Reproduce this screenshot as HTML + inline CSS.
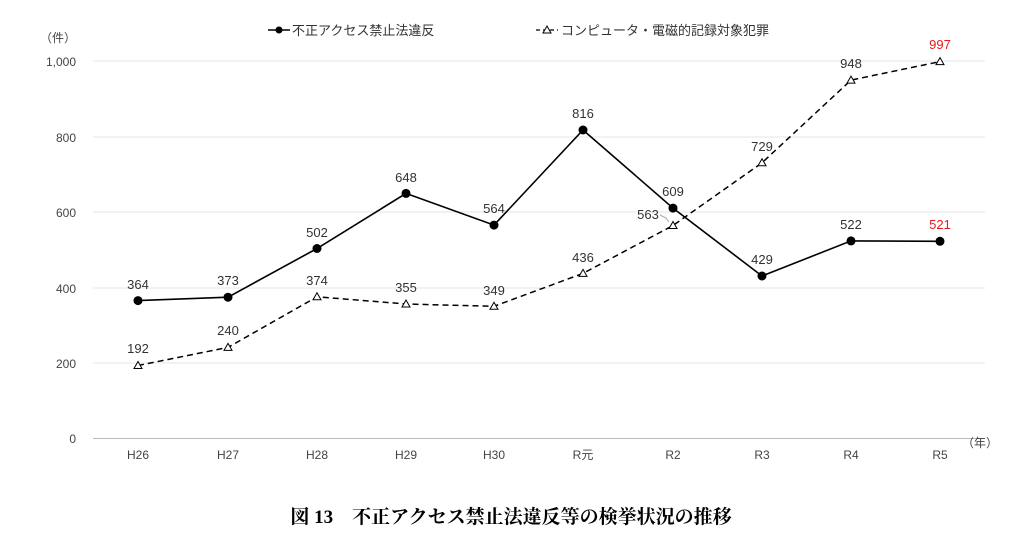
<!DOCTYPE html>
<html><head><meta charset="utf-8"><style>
body{margin:0;background:#fff;}
svg text{font-family:"Liberation Sans","Noto Sans CJK JP",sans-serif;}
</style></head><body>
<svg width="1023" height="551" viewBox="0 0 1023 551" xmlns="http://www.w3.org/2000/svg">
<g stroke="#e6e6e6" stroke-width="1">
<line x1="93" y1="61" x2="985" y2="61"/><line x1="93" y1="137" x2="985" y2="137"/>
<line x1="93" y1="212" x2="985" y2="212"/><line x1="93" y1="288" x2="985" y2="288"/>
<line x1="93" y1="363" x2="985" y2="363"/></g>
<line x1="93" y1="438.5" x2="985" y2="438.5" stroke="#bbb"/>
<g font-size="12" fill="#444" text-anchor="end">
<text x="76" y="42">（件）</text>
<text x="76" y="66">1,000</text><text x="76" y="142">800</text><text x="76" y="217">600</text>
<text x="76" y="293">400</text><text x="76" y="368">200</text><text x="76" y="443">0</text></g>
<g font-size="12" fill="#444" text-anchor="middle">
<text x="138" y="459">H26</text><text x="228" y="459">H27</text><text x="317" y="459">H28</text>
<text x="406" y="459">H29</text><text x="494" y="459">H30</text><text x="583" y="459">R元</text>
<text x="673" y="459">R2</text><text x="762" y="459">R3</text><text x="851" y="459">R4</text>
<text x="940" y="459">R5</text><text x="980" y="447">（年）</text></g>
<line x1="268" y1="30" x2="290" y2="30" stroke="#000" stroke-width="1.5"/><circle cx="279" cy="30" r="3.5"/>
<text x="292" y="35" font-size="13" fill="#333">不正アクセス禁止法違反</text>
<line x1="536" y1="30" x2="558" y2="30" stroke="#000" stroke-width="1.2" stroke-dasharray="4,3"/>
<polygon points="547,26 551,33 543,33" fill="#fff" stroke="#000"/>
<text x="561" y="35" font-size="13" fill="#333">コンピュータ・電磁的記録対象犯罪</text>
<polyline fill="none" stroke="#000" stroke-width="1.5" stroke-dasharray="6,4" points="138,365.5 228,347.4 317,296.8 406,304 494,306.3 583,273.4 673,225.5 762,162.8 851,80.1 940,61.6"/>
<g fill="#fff" stroke="#000">
<polygon points="138,361.5 142,368.5 134,368.5"/><polygon points="228,343.4 232,350.4 224,350.4"/>
<polygon points="317,292.8 321,299.8 313,299.8"/><polygon points="406,300 410,307 402,307"/>
<polygon points="494,302.3 498,309.3 490,309.3"/><polygon points="583,269.4 587,276.4 579,276.4"/>
<polygon points="673,221.5 677,228.5 669,228.5"/><polygon points="762,158.8 766,165.8 758,165.8"/>
<polygon points="851,76.1 855,83.1 847,83.1"/><polygon points="940,57.6 944,64.6 936,64.6"/></g>
<polyline fill="none" stroke="#000" stroke-width="1.6" points="138,300.6 228,297.2 317,248.5 406,193.4 494,225.1 583,130 673,208.1 762,276 851,240.9 940,241.3"/>
<g fill="#000">
<circle cx="138" cy="300.6" r="4.5"/><circle cx="228" cy="297.2" r="4.5"/><circle cx="317" cy="248.5" r="4.5"/>
<circle cx="406" cy="193.4" r="4.5"/><circle cx="494" cy="225.1" r="4.5"/><circle cx="583" cy="130" r="4.5"/>
<circle cx="673" cy="208.1" r="4.5"/><circle cx="762" cy="276" r="4.5"/><circle cx="851" cy="240.9" r="4.5"/>
<circle cx="940" cy="241.3" r="4.5"/></g>
<g font-size="13" fill="#333" text-anchor="middle">
<text x="138" y="289">364</text><text x="228" y="285">373</text><text x="317" y="237">502</text>
<text x="406" y="182">648</text><text x="494" y="213">564</text><text x="583" y="118">816</text>
<text x="673" y="196">609</text><text x="762" y="264">429</text><text x="851" y="229">522</text>
<text x="940" y="229" fill="#e8191f">521</text>
<text x="138" y="353">192</text><text x="228" y="335">240</text><text x="317" y="285">374</text>
<text x="406" y="292">355</text><text x="494" y="295">349</text><text x="583" y="262">436</text>
<text x="648" y="219">563</text><text x="762" y="151">729</text><text x="851" y="68">948</text>
<text x="940" y="49" fill="#e8191f">997</text></g>
<polyline points="660,215 666,218 669,222" fill="none" stroke="#aaa"/>
<text x="511" y="523" font-size="19" font-weight="bold" text-anchor="middle" fill="#000" style="font-family:'Liberation Serif','Noto Serif CJK SC',serif">図 13　不正アクセス禁止法違反等の検挙状況の推移</text>
</svg>
</body></html>
